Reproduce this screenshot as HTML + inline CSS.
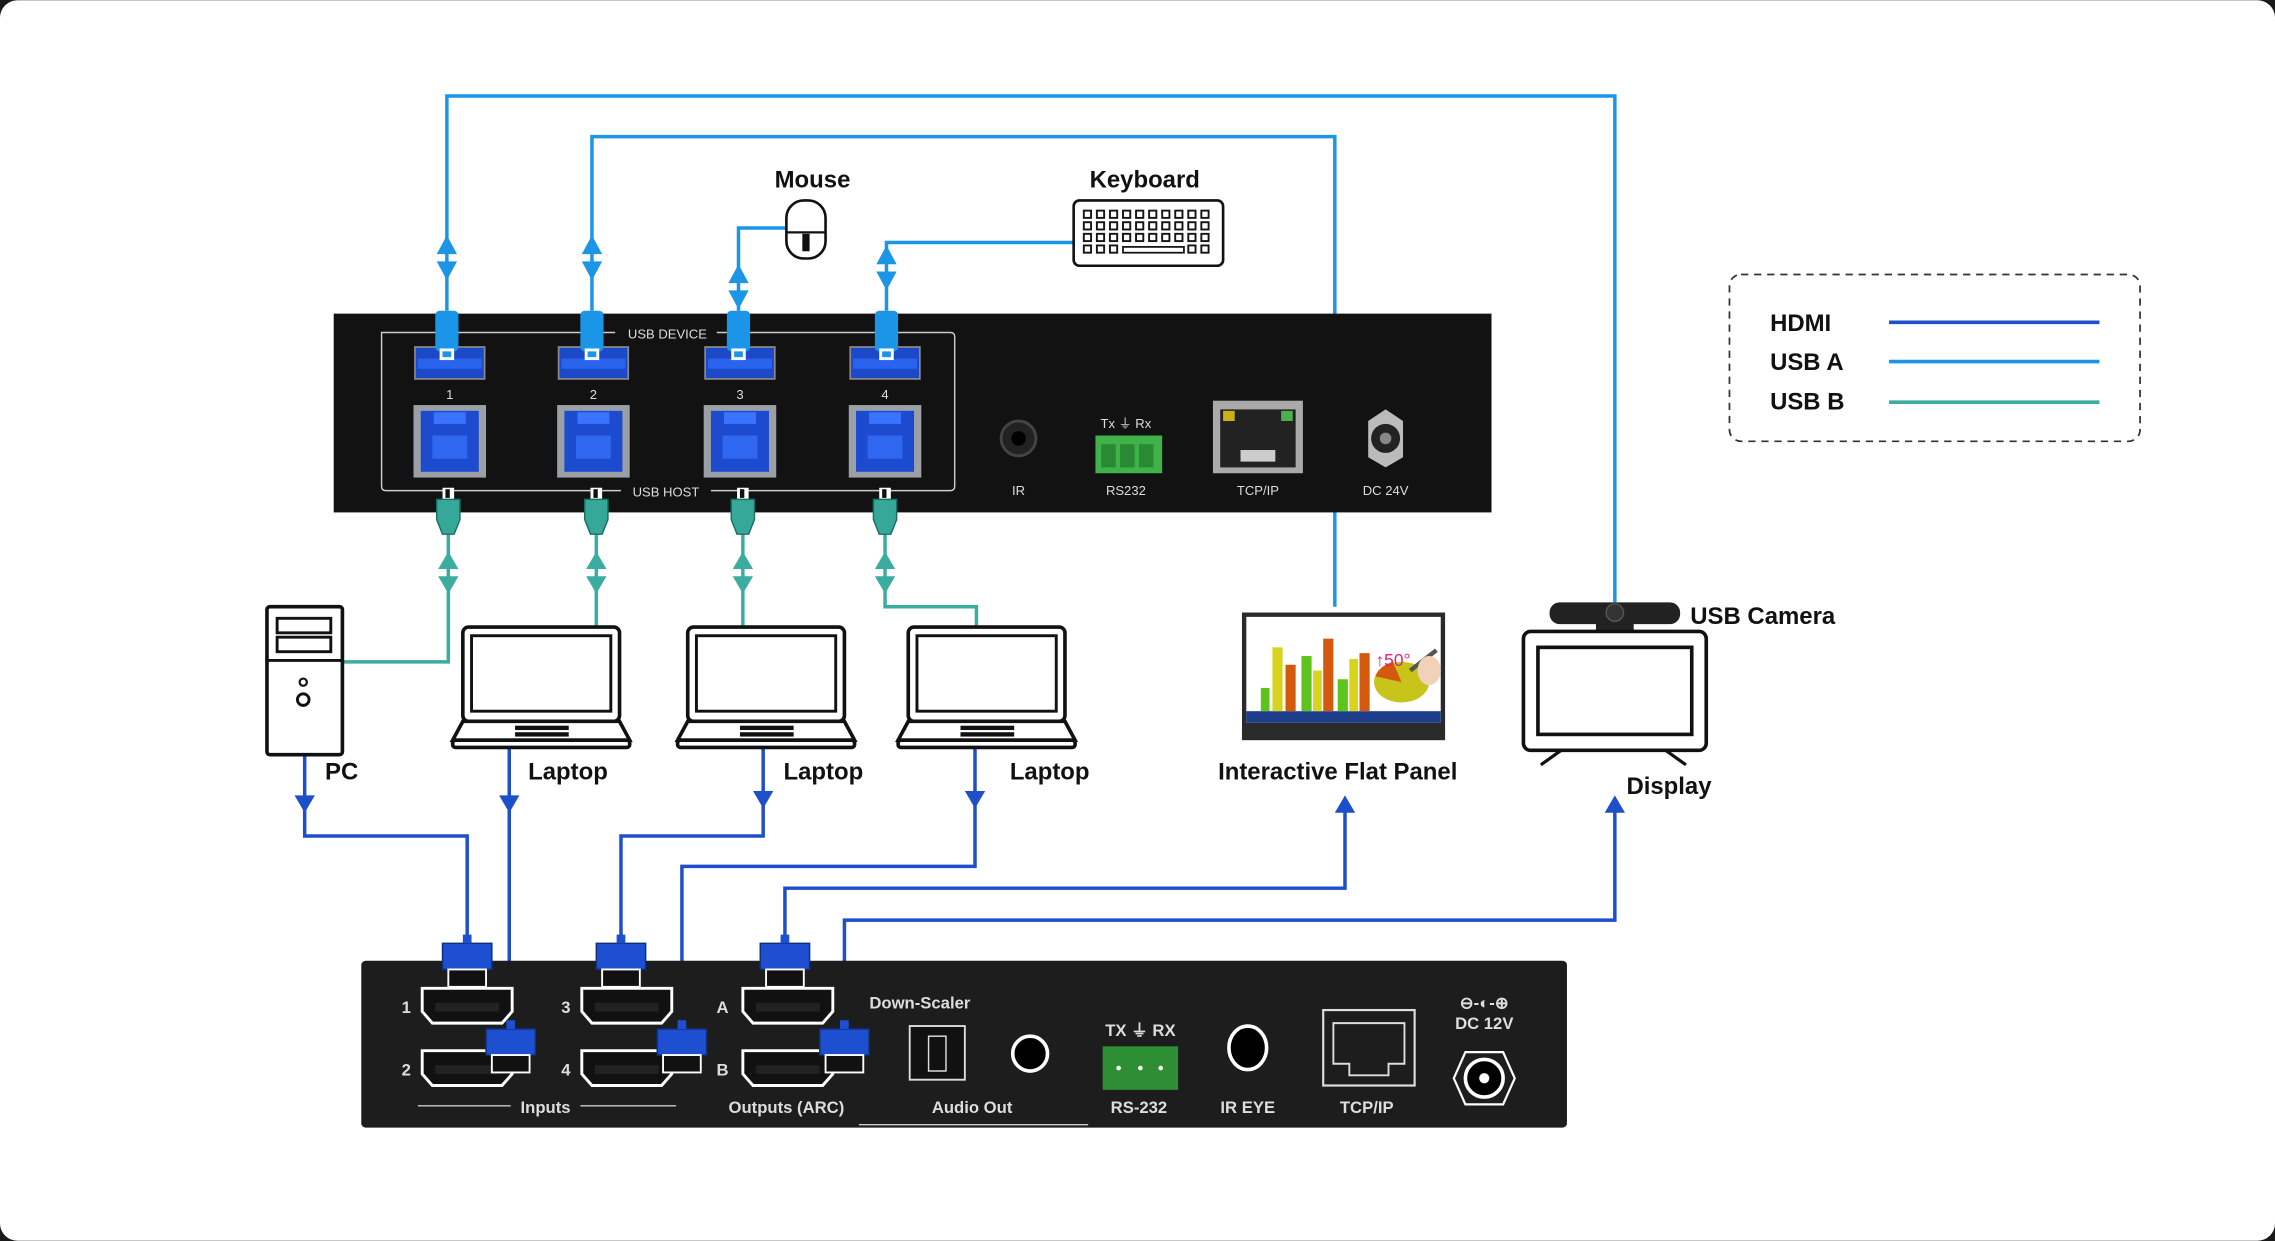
<!DOCTYPE html>
<html><head><meta charset="utf-8"><style>
html,body{margin:0;padding:0;background:#1a1a1a;}
svg{display:block}
text{font-family:"Liberation Sans",sans-serif}
.lb{font-weight:bold;font-size:16.5px;fill:#111}
.w{fill:#ddd;font-size:9px}
.wb{fill:#ddd;font-size:11.5px;font-weight:bold}
</style></head><body>
<svg width="2275" height="1241" viewBox="0 0 1568 855" xmlns="http://www.w3.org/2000/svg">
<defs>
<pattern id="keys" x="746" y="144" width="9" height="8" patternUnits="userSpaceOnUse"><rect x="1" y="1" width="5" height="5" fill="none" stroke="#111" stroke-width="1.3"/></pattern>
<g id="usbA"><rect x="-24" y="-11" width="48" height="22" fill="#1b49c8" stroke="#888" stroke-width="1.2"/><rect x="-22" y="-3" width="44" height="7" fill="#2a64ee"/></g>
<g id="usbB"><rect x="-25" y="-25" width="50" height="50" fill="#9aa0a6"/><rect x="-20" y="-21" width="40" height="42" fill="#1d4bd0"/><rect x="-11" y="-20" width="22" height="8" fill="#3a73ff"/><rect x="-12" y="-4" width="24" height="16" fill="#2f67f0"/></g>
<g id="plugA"><rect x="-8" y="-18" width="16" height="28" rx="3" fill="#1b95e8"/><rect x="-5" y="8" width="10" height="8" fill="#fff"/><rect x="-3" y="10" width="6" height="4" fill="#1b95e8"/></g>
<g id="plugB"><rect x="-4" y="-8" width="8" height="8" fill="#fff"/><rect x="-2" y="-7" width="3" height="6" fill="#111"/><path d="M-8 0 H8 V14 L4 24 H-4 L-8 14Z" fill="#36a89a" stroke="#1a6e64" stroke-width="1"/></g>
<g id="hdmiPort"><path d="M-31 -12 H31 V4 L24 12 H-24 L-31 4Z" fill="#111" stroke="#fff" stroke-width="2"/><rect x="-22" y="-2" width="44" height="6" fill="#222"/></g>
<g id="plugH"><rect x="-17" y="-12" width="34" height="18" fill="#1d4fd0" stroke="#0d2f80" stroke-width="1"/><rect x="-13" y="6" width="26" height="12" fill="#111" stroke="#fff" stroke-width="1.3"/><rect x="-3" y="-18" width="6" height="6" fill="#1d4fd0"/></g>
<g id="laptop"><rect x="0" y="0" width="108" height="65" rx="4" fill="#fff" stroke="#111" stroke-width="2.5"/><rect x="6" y="6" width="96" height="52" fill="#fff" stroke="#111" stroke-width="2"/><path d="M0 65 L-7 78 H115 L108 65Z" fill="#fff" stroke="#111" stroke-width="2.5"/><rect x="-7" y="78" width="122" height="5" rx="2" fill="#fff" stroke="#111" stroke-width="2.5"/><rect x="36" y="68" width="37" height="3" fill="#111"/><rect x="36" y="72.5" width="37" height="3" fill="#111"/></g>
</defs>

<rect x="0" y="0" width="1568" height="855" fill="#1a1a1a"/>
<rect x="0" y="0" width="1568" height="855" rx="12" fill="#fff"/>

<g fill="none" stroke="#1c95e6" stroke-width="2.4">
<path d="M308 214 V66 H1113 V415"/>
<path d="M408 214 V94 H920 V418"/>
<path d="M509 214 V157 H542"/>
<path d="M611 214 V167 H740"/>
</g>
<g fill="#1c95e6">
<path d="M301 175 L308 162 L315 175Z M301 180 L308 193 L315 180Z"/>
<path d="M401 175 L408 162 L415 175Z M401 180 L408 193 L415 180Z"/>
<path d="M502 195 L509 182 L516 195Z M502 200 L509 213 L516 200Z"/>
<path d="M604 182 L611 169 L618 182Z M604 187 L611 200 L618 187Z"/>
</g>
<g fill="none" stroke="#3aaca0" stroke-width="2.4">
<path d="M309 350 V456 H236"/>
<path d="M411 350 V432"/>
<path d="M512 350 V432"/>
<path d="M610 350 V418 H673 V432"/>
</g>
<g fill="#3aaca0">
<path d="M302 392 L309 380 L316 392Z M302 397 L309 409 L316 397Z"/>
<path d="M404 392 L411 380 L418 392Z M404 397 L411 409 L418 397Z"/>
<path d="M505 392 L512 380 L519 392Z M505 397 L512 409 L519 397Z"/>
<path d="M603 392 L610 380 L617 392Z M603 397 L610 409 L617 397Z"/>
</g>
<g fill="none" stroke="#1d4fc8" stroke-width="2.4">
<path d="M210 520 V576 H322 V645"/>
<path d="M351 515 V700"/>
<path d="M526 515 V576 H428 V645"/>
<path d="M672 515 V597 H470 V700"/>
<path d="M541 650 V612 H927 V555"/>
<path d="M582 705 V634 H1113 V555"/>
</g>
<g fill="#1d4fc8">
<path d="M203 548 L210 560 L217 548Z"/>
<path d="M344 548 L351 560 L358 548Z"/>
<path d="M519 545 L526 557 L533 545Z"/>
<path d="M665 545 L672 557 L679 545Z"/>
<path d="M920 560 L927 548 L934 560Z"/>
<path d="M1106 560 L1113 548 L1120 560Z"/>
</g>

<rect x="230" y="216" width="798" height="137" fill="#121212"/>
<path d="M263 229 H655 Q658 229 658 232 V335 Q658 338 655 338 H266 Q263 338 263 335Z" fill="none" stroke="#ccc" stroke-width="1"/>
<rect x="424" y="222" width="70" height="12" fill="#121212"/>
<text x="460" y="233" class="w" text-anchor="middle">USB DEVICE</text>
<rect x="428" y="332" width="62" height="12" fill="#121212"/>
<text x="459" y="342" class="w" text-anchor="middle">USB HOST</text>
<use href="#usbA" x="310" y="250"/><use href="#usbA" x="409" y="250"/><use href="#usbA" x="510" y="250"/><use href="#usbA" x="610" y="250"/>
<text x="310" y="275" class="w" text-anchor="middle">1</text><text x="409" y="275" class="w" text-anchor="middle">2</text><text x="510" y="275" class="w" text-anchor="middle">3</text><text x="610" y="275" class="w" text-anchor="middle">4</text>
<use href="#usbB" x="310" y="304"/><use href="#usbB" x="409" y="304"/><use href="#usbB" x="510" y="304"/><use href="#usbB" x="610" y="304"/>
<use href="#plugA" x="308" y="232"/><use href="#plugA" x="408" y="232"/><use href="#plugA" x="509" y="232"/><use href="#plugA" x="611" y="232"/>
<use href="#plugB" x="309" y="344"/><use href="#plugB" x="411" y="344"/><use href="#plugB" x="512" y="344"/><use href="#plugB" x="610" y="344"/>
<circle cx="702" cy="302" r="12" fill="#222" stroke="#444" stroke-width="2"/><circle cx="702" cy="302" r="5" fill="#000"/>
<text x="702" y="341" class="w" text-anchor="middle">IR</text>
<text x="776" y="295" class="w" text-anchor="middle">Tx ⏚ Rx</text>
<rect x="755" y="300" width="46" height="26" fill="#3fb24a"/>
<rect x="759" y="306" width="10" height="16" fill="#2a8a33"/><rect x="772" y="306" width="10" height="16" fill="#2a8a33"/><rect x="785" y="306" width="10" height="16" fill="#2a8a33"/>
<text x="776" y="341" class="w" text-anchor="middle">RS232</text>
<rect x="836" y="276" width="62" height="50" fill="#aaa"/><rect x="841" y="282" width="52" height="40" fill="#222"/>
<rect x="843" y="283" width="8" height="7" fill="#c8b21a"/><rect x="883" y="283" width="8" height="7" fill="#4caf50"/>
<rect x="855" y="310" width="24" height="8" fill="#ccc"/>
<text x="867" y="341" class="w" text-anchor="middle">TCP/IP</text>
<path d="M943 290 L955 282 L967 290 V315 L955 322 L943 315Z" fill="#bbb"/><circle cx="955" cy="302" r="10" fill="#222"/><circle cx="955" cy="302" r="4" fill="#888"/>
<text x="955" y="341" class="w" text-anchor="middle">DC 24V</text>

<text x="560" y="129" class="lb" text-anchor="middle">Mouse</text>
<rect x="542" y="138" width="27" height="40" rx="12" fill="#fff" stroke="#111" stroke-width="1.8"/>
<line x1="542" y1="160" x2="569" y2="160" stroke="#111" stroke-width="1.5"/><rect x="553" y="161" width="5" height="12" fill="#111"/>
<text x="789" y="129" class="lb" text-anchor="middle">Keyboard</text>
<rect x="740" y="138" width="103" height="45" rx="4" fill="#fff" stroke="#111" stroke-width="1.8"/>
<rect x="746" y="144" width="90" height="24" fill="url(#keys)"/>
<rect x="746" y="168" width="27" height="8" fill="url(#keys)"/><rect x="818" y="168" width="18" height="8" fill="url(#keys)"/>
<rect x="774" y="170" width="42" height="4" fill="none" stroke="#111" stroke-width="1.2"/>

<rect x="184" y="418" width="52" height="102" rx="2" fill="#fff" stroke="#111" stroke-width="2.5"/>
<rect x="191" y="426" width="37" height="10" fill="#fff" stroke="#111" stroke-width="2"/><rect x="191" y="439" width="37" height="10" fill="#fff" stroke="#111" stroke-width="2"/>
<line x1="184" y1="455" x2="236" y2="455" stroke="#111" stroke-width="2"/>
<circle cx="209" cy="470" r="2.5" fill="none" stroke="#111" stroke-width="1.5"/><circle cx="209" cy="482" r="4" fill="none" stroke="#111" stroke-width="2"/>
<text x="224" y="537" class="lb">PC</text>
<use href="#laptop" x="319" y="432"/><use href="#laptop" x="474" y="432"/><use href="#laptop" x="626" y="432"/>
<text x="364" y="537" class="lb">Laptop</text><text x="540" y="537" class="lb">Laptop</text><text x="696" y="537" class="lb">Laptop</text>

<rect x="856" y="422" width="140" height="88" fill="#2a2a2a"/>
<rect x="859" y="425" width="134" height="73" fill="#fff"/>
<rect x="859" y="490" width="134" height="8" fill="#1e3c8c"/>
<g><rect x="869" y="474" width="6" height="16" fill="#5cc41c"/><rect x="877" y="446" width="7" height="44" fill="#d8d41e"/><rect x="886" y="458" width="7" height="32" fill="#d35a0c"/>
<rect x="897" y="452" width="7" height="38" fill="#5cc41c"/><rect x="905" y="462" width="6" height="28" fill="#d8d41e"/><rect x="912" y="440" width="7" height="50" fill="#d35a0c"/>
<rect x="922" y="468" width="7" height="22" fill="#5cc41c"/><rect x="930" y="454" width="6" height="36" fill="#d8d41e"/><rect x="937" y="450" width="7" height="40" fill="#d35a0c"/></g>
<ellipse cx="966" cy="470" rx="19" ry="14" fill="#c9c41a"/><path d="M966 470 L948 466 A19 14 0 0 1 960 456Z" fill="#d35a0c"/>
<path d="M972 462 L990 448" stroke="#555" stroke-width="3"/><ellipse cx="985" cy="462" rx="8" ry="10" fill="#f1d2b8"/>
<text x="948" y="459" font-size="12" fill="#e0207c" font-family="Liberation Sans">↑50°</text>
<text x="922" y="537" class="lb" text-anchor="middle">Interactive Flat Panel</text>

<rect x="1068" y="415" width="90" height="15" rx="7" fill="#222"/><circle cx="1113" cy="422" r="6" fill="#333" stroke="#555"/>
<rect x="1100" y="429" width="26" height="6" fill="#222"/>
<text x="1165" y="430" class="lb">USB Camera</text>
<rect x="1050" y="435" width="126" height="82" rx="5" fill="#fff" stroke="#111" stroke-width="2.5"/>
<rect x="1060" y="446" width="106" height="60" fill="#fff" stroke="#111" stroke-width="2.5"/>
<path d="M1076 517 L1062 527 M1148 517 L1162 527" stroke="#111" stroke-width="2.2"/>
<text x="1121" y="547" class="lb">Display</text>

<rect x="1192" y="189" width="283" height="115" rx="8" fill="#fff" stroke="#333" stroke-width="1.2" stroke-dasharray="5,4"/>
<text x="1220" y="228" class="lb">HDMI</text><line x1="1302" y1="222" x2="1447" y2="222" stroke="#1d4fc8" stroke-width="2.5"/>
<text x="1220" y="255" class="lb">USB A</text><line x1="1302" y1="249" x2="1447" y2="249" stroke="#1c95e6" stroke-width="2.5"/>
<text x="1220" y="282" class="lb">USB B</text><line x1="1302" y1="277" x2="1447" y2="277" stroke="#3aaca0" stroke-width="2.5"/>

<rect x="249" y="662" width="831" height="115" rx="3" fill="#1d1d1d"/>
<use href="#hdmiPort" x="322" y="693"/><use href="#hdmiPort" x="322" y="736"/>
<use href="#hdmiPort" x="432" y="693"/><use href="#hdmiPort" x="432" y="736"/>
<use href="#hdmiPort" x="543" y="693"/><use href="#hdmiPort" x="543" y="736"/>
<text x="280" y="698" class="wb" text-anchor="middle">1</text><text x="280" y="741" class="wb" text-anchor="middle">2</text>
<text x="390" y="698" class="wb" text-anchor="middle">3</text><text x="390" y="741" class="wb" text-anchor="middle">4</text>
<text x="498" y="698" class="wb" text-anchor="middle">A</text><text x="498" y="741" class="wb" text-anchor="middle">B</text>
<use href="#plugH" x="322" y="662"/><use href="#plugH" x="428" y="662"/><use href="#plugH" x="541" y="662"/>
<use href="#plugH" x="352" y="721"/><use href="#plugH" x="470" y="721"/><use href="#plugH" x="582" y="721"/>
<line x1="288" y1="762" x2="352" y2="762" stroke="#ccc" stroke-width="1"/><line x1="400" y1="762" x2="466" y2="762" stroke="#ccc" stroke-width="1"/>
<text x="376" y="767" class="wb" text-anchor="middle">Inputs</text>
<text x="542" y="767" class="wb" text-anchor="middle">Outputs (ARC)</text>
<text x="634" y="695" class="wb" text-anchor="middle">Down-Scaler</text>
<rect x="627" y="707" width="38" height="37" fill="#111" stroke="#ddd" stroke-width="1.3"/><rect x="640" y="714" width="12" height="24" fill="none" stroke="#ddd" stroke-width="1"/>
<circle cx="710" cy="726" r="12" fill="#000" stroke="#fff" stroke-width="2.5"/>
<text x="670" y="767" class="wb" text-anchor="middle">Audio Out</text>
<line x1="592" y1="775" x2="750" y2="775" stroke="#ccc" stroke-width="1"/>
<text x="786" y="714" class="wb" text-anchor="middle">TX ⏚ RX</text>
<rect x="760" y="721" width="52" height="30" fill="#2e8e34"/>
<circle cx="771" cy="736" r="1.6" fill="#fff"/><circle cx="786" cy="736" r="1.6" fill="#fff"/><circle cx="800" cy="736" r="1.6" fill="#fff"/>
<text x="785" y="767" class="wb" text-anchor="middle">RS-232</text>
<ellipse cx="860" cy="722" rx="13" ry="15" fill="#000" stroke="#fff" stroke-width="2.5"/>
<text x="860" y="767" class="wb" text-anchor="middle">IR EYE</text>
<rect x="912" y="696" width="63" height="52" fill="none" stroke="#ddd" stroke-width="1.5"/>
<path d="M919 705 H968 V733 H957 V741 H930 V733 H919Z" fill="none" stroke="#ddd" stroke-width="1.3"/>
<text x="942" y="767" class="wb" text-anchor="middle">TCP/IP</text>
<text x="1023" y="695" class="wb" text-anchor="middle">⊖-◐-⊕</text>
<text x="1023" y="709" class="wb" text-anchor="middle">DC 12V</text>
<path d="M1002 743 L1010 725 H1036 L1044 743 L1036 761 H1010Z" fill="none" stroke="#fff" stroke-width="1.5"/>
<circle cx="1023" cy="743" r="13" fill="#000" stroke="#fff" stroke-width="2.5"/><circle cx="1023" cy="743" r="3.5" fill="#fff"/>
</svg>
</body></html>
